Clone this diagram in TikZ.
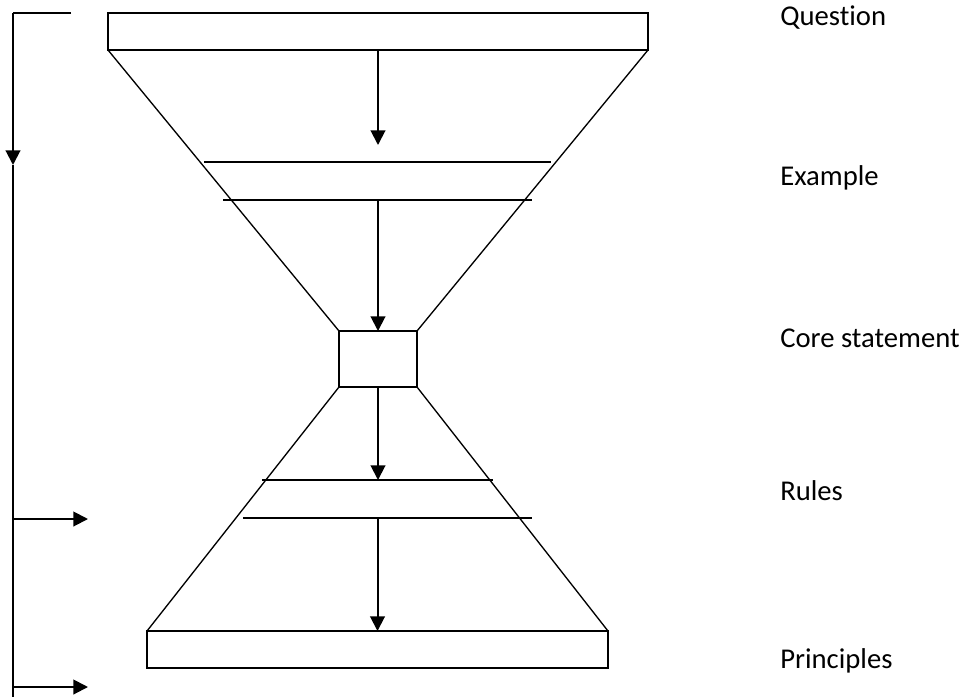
\documentclass[tikz,border=0pt]{standalone}
\usepackage{fontspec}
\setmainfont{Carlito}[Ligatures=NoCommon]
\usepackage{tikz}
\usetikzlibrary{arrows.meta,positioning,calc}
\tikzset{
  stageBox/.style={draw=black, line width=1.3pt, inner sep=0pt, outer sep=0pt},
  stageLine/.style={draw=black, line width=1.2pt},
  funnelLine/.style={draw=black, line width=1.0pt},
  flowArrow/.style={-{Triangle[length=11pt,width=11pt]}, line width=1.5pt, draw=black},
  stageLabel/.style={font=\fontsize{21.5}{26}\selectfont, anchor=base west, inner sep=0pt}
}

\begin{document}
\begin{tikzpicture}[x=0.75pt,y=-0.75pt]
  \useasboundingbox (0,0) rectangle (967,697);
  % hourglass boxes
  \node[stageBox, minimum width=405pt, minimum height=27.75pt] (questionBox) at (378,31.5) {};
  \node[stageBox, minimum width=58.5pt, minimum height=42pt] (coreBox) at (378,359) {};
  \node[stageBox, minimum width=345.75pt, minimum height=27.75pt] (principleBox) at (377.5,649.5) {};
  % rule lines
  \coordinate (exTopL) at (204,162);  \coordinate (exTopR) at (551,162);
  \coordinate (exBotL) at (223,200);  \coordinate (exBotR) at (532,200);
  \coordinate (ruTopL) at (262,480);  \coordinate (ruTopR) at (493,480);
  \coordinate (ruBotL) at (243,518);  \coordinate (ruBotR) at (532,518);
  \draw[stageLine] (exTopL) -- (exTopR);
  \draw[stageLine] (exBotL) -- (exBotR);
  \draw[stageLine] (ruTopL) -- (ruTopR);
  \draw[stageLine] (ruBotL) -- (ruBotR);
  % funnel sides
  \draw[funnelLine] (questionBox.south west) -- (coreBox.north west);
  \draw[funnelLine] (questionBox.south east) -- (coreBox.north east);
  \draw[funnelLine] (coreBox.south west) -- (principleBox.north west);
  \draw[funnelLine] (coreBox.south east) -- (principleBox.north east);
  % arrows down the middle
  \draw[flowArrow, shorten >=12.75pt] (questionBox.south) -- (questionBox.south |- exTopL);
  \draw[flowArrow] (coreBox.north |- exBotL) -- (coreBox.north);
  \draw[flowArrow] (coreBox.south) -- (coreBox.south |- ruTopL);
  \draw[flowArrow] (principleBox.north |- ruBotL) -- (principleBox.north);
  % left bracket
  \coordinate (brStart) at (71,13);
  \coordinate (brCorner) at (13,13);
  \coordinate (brMid) at (13,165);
  \coordinate (brEnd) at (13,697);
  \coordinate (ruleTip) at (88,519);
  \coordinate (princTip) at (88,687);
  \draw[stageLine, line width=1.5pt] (brStart) -- (brCorner);
  \draw[flowArrow] (brCorner) -- (brMid);
  \draw[stageLine, line width=1.5pt] (brMid) -- (brEnd);
  \draw[flowArrow] (brCorner |- ruleTip) -- (ruleTip);
  \draw[flowArrow] (brCorner |- princTip) -- (princTip);
  % labels
  \node[stageLabel] (qLabel) at (780,25) {Question};
  \node[stageLabel] (eLabel) at (780,185) {Example};
  \node[stageLabel] (cLabel) at (780,347) {Core statement};
  \node[stageLabel] (rLabel) at (780,500) {Rules};
  \node[stageLabel] (pLabel) at (780,668) {Principles};
\end{tikzpicture}
\end{document}
